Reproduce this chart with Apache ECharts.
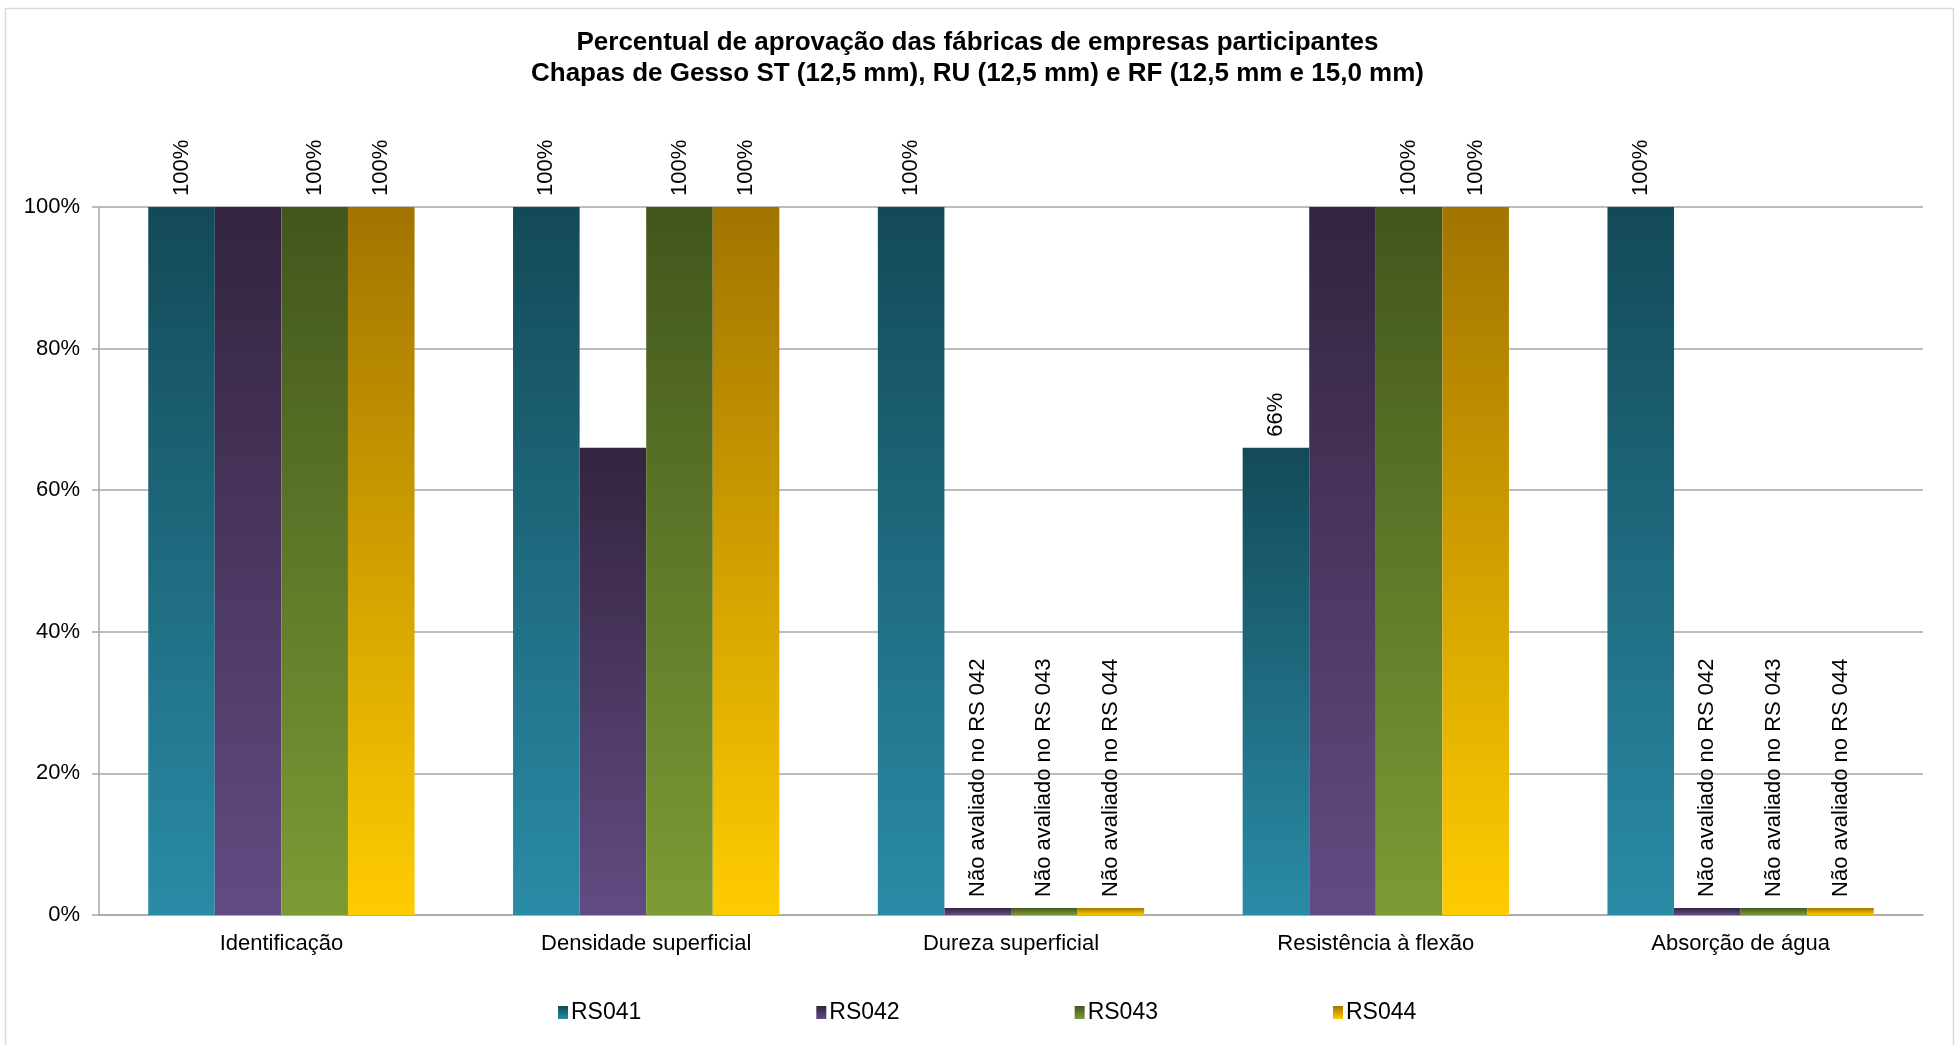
<!DOCTYPE html>
<html>
<head>
<meta charset="utf-8">
<script src="https://cdn.jsdelivr.net/npm/echarts@6/dist/echarts.min.js"></script>
<style>
html,body{margin:0;padding:0;background:#fff;}
#chart{width:1955px;height:1045px;}
</style>
</head>
<body>
<div id="chart"></div>
<script>
const categories = ['Identificação', 'Densidade superficial', 'Dureza superficial', 'Resistência à flexão', 'Absorção de água'];
const seriesNames = ['RS041', 'RS042', 'RS043', 'RS044'];
const rs041 = [100, 100, 100, 66, 100];
const rs042 = [100, 66, 1, 100, 1];
const rs043 = [100, 100, 1, 100, 1];
const rs044 = [100, 100, 1, 100, 1];
const labels041 = ['100%', '100%', '100%', '66%', '100%'];
const labels042 = ['', '', 'Não avaliado no RS 042', '', 'Não avaliado no RS 042'];
const labels043 = ['100%', '100%', 'Não avaliado no RS 043', '100%', 'Não avaliado no RS 043'];
const labels044 = ['100%', '100%', 'Não avaliado no RS 044', '100%', 'Não avaliado no RS 044'];
const yTicks = [0, 20, 40, 60, 80, 100];

const values = [rs041, rs042, rs043, rs044];
const labels = [labels041, labels042, labels043, labels044];
const gradients = [
  ['#134a58', '#2a8ba6'],
  ['#33243f', '#624b82'],
  ['#42561c', '#7c9b35'],
  ['#a27400', '#ffcc00']
];
const FONT = '"Liberation Sans", Arial, sans-serif';

function grad(c) {
  return new echarts.graphic.LinearGradient(0, 0, 0, 1, [
    {offset: 0, color: c[0]}, {offset: 1, color: c[1]}
  ]);
}

const chart = echarts.init(document.getElementById('chart'), null, {renderer: 'canvas'});
const option = {
  backgroundColor: '#ffffff',
  animation: false,
  textStyle: {fontFamily: FONT},
  graphic: [{
    type: 'rect', left: 3, top: 6, silent: true,
    shape: {width: 1948, height: 1060},
    style: {fill: 'none', stroke: '#d9d9d9', lineWidth: 1.5}
  }],
  title: {
    text: 'Percentual de aprovação das fábricas de empresas participantes\nChapas de Gesso ST (12,5 mm), RU (12,5 mm) e RF (12,5 mm e 15,0 mm)',
    left: 'center',
    top: 22,
    textStyle: {fontFamily: FONT, fontWeight: 'bold', fontSize: 26, color: '#000', lineHeight: 31}
  },
  legend: {
    bottom: 16,
    left: 553,
    itemWidth: 10,
    itemHeight: 13,
    itemGap: 175,
    icon: 'rect',
    data: seriesNames,
    textStyle: {fontFamily: FONT, fontSize: 23, color: '#000', padding: [0, 0, 0, -2]}
  },
  grid: {left: 99, right: 32, top: 207, bottom: 130, containLabel: false},
  xAxis: {
    type: 'category',
    data: categories,
    axisLine: {lineStyle: {color: '#a6a6a6', width: 1.5}},
    axisTick: {show: false},
    axisLabel: {fontFamily: FONT, fontSize: 22, color: '#000', margin: 18}
  },
  yAxis: {
    type: 'value',
    min: 0, max: 100, interval: 20,
    axisLine: {show: true, lineStyle: {color: '#a6a6a6', width: 1.5}},
    axisTick: {show: true, length: 7, lineStyle: {color: '#a6a6a6', width: 1.5}},
    splitLine: {lineStyle: {color: '#a6a6a6', width: 1.5}},
    axisLabel: {
      fontFamily: FONT, fontSize: 22, color: '#000', margin: 19,
      formatter: function (v) { return yTicks.indexOf(v) >= 0 ? v + '%' : ''; }
    }
  },
  series: seriesNames.map(function (name, i) {
    return {
      name: name,
      type: 'bar',
      data: values[i],
      barGap: '0%',
      barCategoryGap: '27%',
      itemStyle: {color: grad(gradients[i])},
      label: {
        show: true,
        position: 'top',
        rotate: 90,
        align: 'left',
        verticalAlign: 'middle',
        distance: 11,
        fontFamily: FONT,
        fontSize: 22,
        color: '#000',
        formatter: function (p) { return labels[i][p.dataIndex]; }
      }
    };
  })
};
chart.setOption(option);
</script>
</body>
</html>
